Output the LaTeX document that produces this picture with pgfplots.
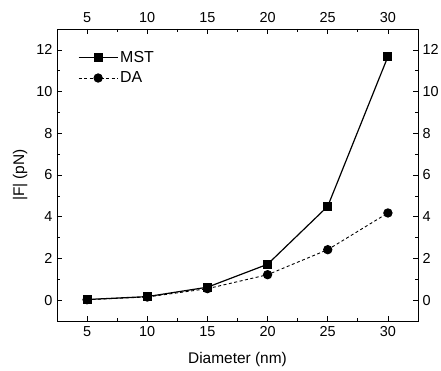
\documentclass[border=0pt]{standalone}
\usepackage{pgfplots}
\pgfplotsset{compat=1.18}
\usepackage{fontspec}
\setmainfont{Liberation Sans}
\begin{document}
\begin{tikzpicture}[x=1bp,y=1bp]
\begin{axis}[
  scale only axis,
  width=361bp, height=292bp,
  xmin=2.5, xmax=32.5, ymin=-1, ymax=13,
  xtick={5,10,...,30}, ytick={0,2,...,12},
  minor x tick num=1, minor y tick num=1,
  tick align=inside,
  xtick pos=both, ytick pos=both,
  ticklabel pos=left,
  axis line style={line width=0.8pt},
  major tick length=5bp, minor tick length=3bp,
  every tick/.style={line width=0.7pt, black},
  /pgf/number format/assume math mode=true,
  tick label style={font=\fontsize{14.5}{16}\selectfont},
  xticklabel shift=2bp,
  yticklabel shift=1bp,
  xlabel={Diameter (nm)}, ylabel={|F| (pN)},
  every axis x label/.style={at={(axis description cs:0.5,-0.133)}, anchor=center, font=\fontsize{15.5}{17}\selectfont},
  every axis y label/.style={at={(axis description cs:-0.102,0.5)}, rotate=90, anchor=center, font=\fontsize{15.5}{17}\selectfont},
  legend style={draw=none, fill=none, at={(0.055,0.935)}, anchor=north west, font=\fontsize{16}{17}\selectfont, row sep=4bp, inner sep=1pt},
  legend cell align=left,
  legend image code/.code={
    \draw[mark repeat=2,mark phase=2] plot coordinates {(0bp,0bp) (19.5bp,0bp) (39bp,0bp)};
  },
  clip=false,
]
\addplot[black, line width=1.2pt, mark=square*, mark size=3.9bp] coordinates {
  (5,0.03) (10,0.17) (15,0.62) (20,1.72) (25,4.5) (30,11.68)
};
\addlegendentry{MST}
\addplot[black, line width=0.9pt, dash pattern=on 3bp off 2.5bp, mark=*, mark size=4.2bp, mark options={solid}] coordinates {
  (5,0.02) (10,0.15) (15,0.55) (20,1.22) (25,2.42) (30,4.18)
};
\addlegendentry{DA}
\end{axis}
\begin{axis}[
  scale only axis,
  width=361bp, height=292bp,
  xmin=2.5, xmax=32.5, ymin=-1, ymax=13,
  xtick={5,10,...,30}, ytick={0,2,...,12},
  axis x line*=top, axis y line*=right,
  axis line style={draw=none},
  major tick length=0pt,
  /pgf/number format/assume math mode=true,
  tick label style={font=\fontsize{14.5}{16}\selectfont},
  xticklabel shift=3bp,
  yticklabel shift=1bp,
]
\addplot[draw=none] coordinates {(5,0)};
\end{axis}
\pgfresetboundingbox
\useasboundingbox (-57bp,-50bp) rectangle (384bp,321bp);
\end{tikzpicture}
\end{document}
